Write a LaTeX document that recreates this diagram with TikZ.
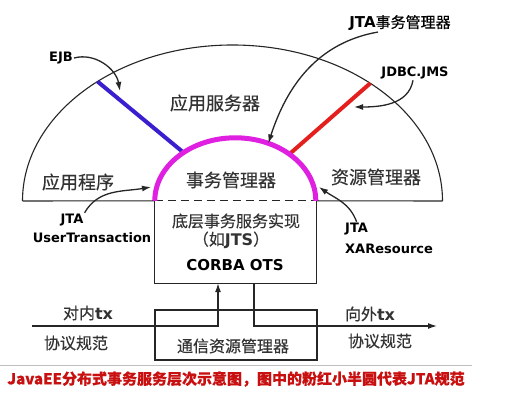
\documentclass[tikz,border=0pt]{standalone}
\usepackage{fontspec}
\setmainfont{DejaVu Sans}
\newfontfamily\cjk[FakeBold=0.35]{Noto Sans CJK SC}
\usetikzlibrary{positioning,shapes,arrows.meta}

\definecolor{jtapink}{HTML}{E020E0}
\definecolor{ejbblue}{HTML}{3A1FCF}
\definecolor{jdbcred}{HTML}{E3201E}
\definecolor{capred}{HTML}{C81010}

\newcommand\en[1]{{\rmfamily\bfseries #1}}

\tikzset{
    outline/.style={line width=1.1pt, black!85},
    zhbig/.style={font=\cjk\fontsize{18}{20}\selectfont, text=black!80, inner sep=0pt},
    zhsmall/.style={font=\cjk\fontsize{16}{18}\selectfont, text=black!80, inner sep=0pt},
    enlabel/.style={font=\bfseries\fontsize{13}{15}\selectfont, inner sep=1pt},
    callout/.style={-{Latex[length=9pt,width=6pt]}, line width=1.3pt, black!85},
    boxnode/.style={minimum width=161pt, inner sep=0pt},
    spoke/.style={line width=4pt},
}

\begin{document}
\begin{tikzpicture}[x=1pt,y=1pt]
    \useasboundingbox (0,0) rectangle (515,-411);
    \fill[white] (0,0) rectangle (515,-411);

    % centres of the two half ellipses
    \coordinate (big) at (232.5,-201);
    \coordinate (small) at (235.5,-201);
    \coordinate (bigL) at (22.5,-201);
    \coordinate (bigR) at (442.5,-201);

    % core box (top edge dashed)
    \node[boxnode, minimum height=82pt] (impl) at (235.5,-242) {};

    \draw[outline] (bigL) arc[start angle=180, end angle=0, x radius=210, y radius=156];
    \draw[outline] (bigL) -- (impl.north west);
    \draw[outline] (impl.north east) -- (bigR);
    \draw[outline] (impl.north west) |- (impl.south east) -- (impl.north east);
    \draw[outline, dash pattern=on 8pt off 5pt] (impl.north west) -- (impl.north east);

    % EJB and JDBC spokes
    \draw[spoke, ejbblue] ([shift={(130:210 and 156)}]big) -- ([shift={(130:80.5 and 63)}]small);
    \draw[spoke, jdbcred] ([shift={(49:210 and 156)}]big) -- ([shift={(48:80.5 and 63)}]small);

    % JTA half circle
    \draw[jtapink, line width=5pt] (impl.north west) arc[start angle=180, end angle=0, x radius=80.5, y radius=63];

    % area labels
    \node[zhbig] (appsrv) at (215,-103) {应用服务器};
    \node[zhbig] (txmgr) at (231,-180) {事务管理器};
    \node[zhbig] (app) at (78,-182) {应用程序};
    \node[zhbig] (resmgr) at (376,-177) {资源管理器};

    \node[zhsmall] (implA) at (236,-221) {底层事务服务实现};
    \node[zhsmall] (implB) at (231,-240) {（如\en{JTS}）};
    \node[font=\bfseries\fontsize{15}{17}\selectfont] (corba) at (235,-265) {CORBA OTS};

    % call-out labels
    \node[enlabel] (ejb) at (61,-58) {EJB};
    \node[font=\bfseries\fontsize{15}{17}\selectfont, inner sep=1pt] (jtatm) at (400,-23) {JTA{\cjk\mdseries 事务管理器}};
    \node[enlabel] (jdbc) at (415,-73) {JDBC.JMS};
    \node[enlabel] (utjta) at (72,-220) {JTA};
    \node[enlabel] (ut) at (92,-238) {UserTransaction};
    \node[enlabel, anchor=west] (xajta) at (344,-229) {JTA};
    \node[enlabel, anchor=west] (xa) at (344,-249) {XAResource};

    \coordinate (ejbtip) at (120,-91);
    \coordinate (tmtip) at ([shift={(66:80.5 and 63)}]small);
    \coordinate (jdbctip) at (354,-107);
    \coordinate (uttip) at (151,-187);
    \coordinate (xatip) at (319,-187);

    \draw[callout] (ejb.east) to[out=15, in=100] (ejbtip);
    \draw[callout] ([xshift=-22pt]jtatm.south) to[out=190, in=72] (tmtip);
    \draw[callout] ([xshift=-2pt]jdbc.south) to[out=-100, in=0] (jdbctip);
    \draw[callout] (utjta.north east) to[out=60, in=190] (uttip);
    \draw[callout] (xajta.north) to[out=110, in=-35] (xatip);

    % communication layer
    \node[draw, outline, boxnode, minimum width=162pt, minimum height=50pt] (comm) at (236,-335) {};
    \node[zhsmall] (commtxt) at (233,-346) {通信资源管理器};

    \coordinate (inl) at (32,-326);
    \coordinate (outr) at (437,-326);
    \draw[callout] (inl) -| ([xshift=-17.5pt]impl.south);
    \draw[callout] ([xshift=18.5pt]impl.south) |- (outr);

    \node[zhsmall] (intx) at (88,-313) {对内\en{tx}};
    \node[zhsmall] (inproto) at (76,-343) {协议规范};
    \node[zhsmall] (outtx) at (370,-314) {向外\en{tx}};
    \node[zhsmall] (outproto) at (380,-341) {协议规范};

    % caption
    \draw[black!25] (0,-365) -- (472,-365);
    \node[font=\cjk\bfseries\fontsize{15}{17}\selectfont, text=capred, inner sep=0pt] (caption) at (236,-379) {JavaEE分布式事务服务层次示意图，图中的粉红小半圆代表JTA规范};
\end{tikzpicture}
\end{document}
